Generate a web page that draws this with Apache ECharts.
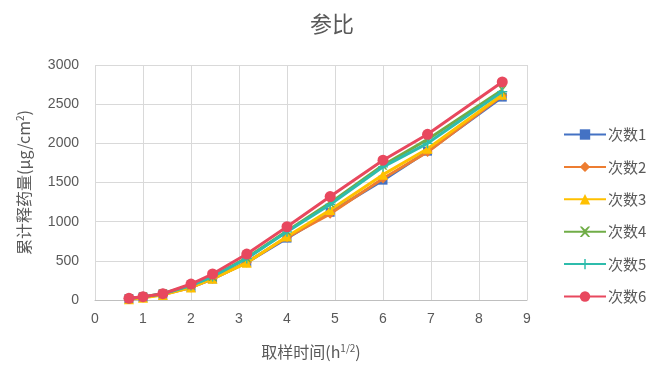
<!DOCTYPE html>
<html><head><meta charset="utf-8">
<script src="https://cdn.jsdelivr.net/npm/echarts@6/dist/echarts.min.js"></script>
<style>html,body{margin:0;padding:0;background:#fff}#c{width:654px;height:374px}</style>
</head><body><div id="c"></div>
<script>
const xTimes = [0.707, 1, 1.414, 2, 2.449, 3.162, 4, 4.899, 6, 6.928, 8.485];
const seriesNames = ['次数1','次数2','次数3','次数4','次数5','次数6'];
const s1 = [15, 35, 75, 160, 270, 480, 790, 1120, 1530, 1900, 2590];
const s2 = [12, 35, 70, 160, 270, 480, 800, 1100, 1550, 1890, 2610];
const s3 = [10, 30, 65, 160, 270, 475, 810, 1150, 1600, 1930, 2620];
const s4 = [18, 40, 80, 190, 300, 540, 880, 1240, 1720, 2050, 2680];
const s5 = [18, 40, 80, 185, 300, 530, 870, 1220, 1700, 2000, 2660];
const s6 = [22, 42, 80, 204, 332, 587, 935, 1320, 1785, 2115, 2784];
const xTicks = [0,1,2,3,4,5,6,7,8,9];
const yTicks = [0,500,1000,1500,2000,2500,3000];

const allData = [s1,s2,s3,s4,s5,s6];
const colors = ['#4472C4','#ED7D31','#FFC000','#70AD47','#2EBCAC','#E8485E'];
const xPath = 'path://M0,0L2,0L5,3L8,0L10,0L6,5L10,10L8,10L5,7L2,10L0,10L4,5Z';
const plusPath = 'path://M4.3,0L5.7,0L5.7,4.3L10,4.3L10,5.7L5.7,5.7L5.7,10L4.3,10L4.3,5.7L0,5.7L0,4.3L4.3,4.3Z';
const symbols = ['rect','diamond','triangle',xPath,plusPath,'circle'];
const sizes = [9,10,10,9,10,11];

const chart = echarts.init(document.getElementById('c'), null, {renderer:'canvas'});
const txt = '#595959';
chart.setOption({
  animation:false,
  title:{text:'参比', left:327, top:8, textAlign:'center',
    textStyle:{fontSize:22, fontWeight:'normal', color:txt, fontFamily:'Noto Sans CJK SC'}},
  legend:{orient:'vertical', left:558, top:122, itemGap:17.4, itemWidth:42, itemHeight:13,
    textStyle:{fontSize:15, color:txt, fontFamily:'Noto Sans CJK SC', padding:[0,0,0,-3]},
    data:seriesNames},
  grid:{left:95, right:127, top:65, bottom:74},
  xAxis:{type:'value', min:xTicks[0], max:xTicks[xTicks.length-1], interval:1,
    name:'取样时间(h{sup|1/2})', nameLocation:'middle', nameGap:43,
    nameTextStyle:{fontSize:16, color:txt, fontFamily:'Noto Sans CJK SC',
      rich:{sup:{fontSize:10, verticalAlign:'top', padding:[0,0,8,0], color:txt}}},
    axisLine:{lineStyle:{color:'#BFBFBF'}}, axisTick:{show:false},
    axisLabel:{fontSize:14, color:txt, margin:12},
    splitLine:{lineStyle:{color:'#D9D9D9'}}},
  yAxis:{type:'value', min:yTicks[0], max:yTicks[yTicks.length-1], interval:500,
    name:'累计释药量(μg/cm{sup|2})', nameLocation:'middle', nameGap:62,
    nameTextStyle:{fontSize:16, color:txt, fontFamily:'Noto Sans CJK SC',
      rich:{sup:{fontSize:10, verticalAlign:'top', padding:[0,0,8,0], color:txt}}},
    axisLine:{show:false}, axisTick:{show:false},
    axisLabel:{fontSize:14, color:txt, margin:16, formatter:v=>String(v)},
    splitLine:{lineStyle:{color:'#D9D9D9'}}},
  series: allData.map((d,i)=>({
    name:seriesNames[i], type:'line',
    data:d.map((v,j)=>[xTimes[j], v]),
    symbol:symbols[i], symbolSize:sizes[i], showAllSymbol:true,
    lineStyle:{width:3, color:colors[i]},
    itemStyle:{color:colors[i], borderWidth:0},
    color:colors[i], z:2+i
  }))
});
</script></body></html>
